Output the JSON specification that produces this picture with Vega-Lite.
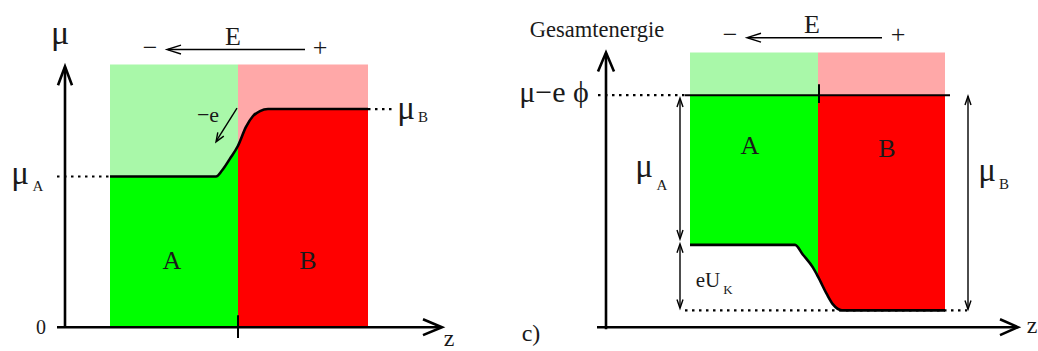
{
  "$schema": "https://vega.github.io/schema/vega-lite/v6.json",
  "width": 1038,
  "height": 351,
  "autosize": {"type": "fit", "contains": "padding"},
  "padding": 0,
  "background": "white",
  "config": {"view": {"stroke": null}},
  "datasets": {
    "rects": [
      {"x": 110, "x2": 238, "y": 65, "y2": 330, "fill": "#a9f8a9"},
      {"x": 238, "x2": 368, "y": 65, "y2": 330, "fill": "#ffa8a8"},
      {"x": 690, "x2": 818, "y": 53, "y2": 96, "fill": "#a9f8a9"},
      {"x": 818, "x2": 945, "y": 53, "y2": 96, "fill": "#ffa8a8"}
    ],
    "areas": [
      {"g": "lg", "fill": "#00ff00", "x": 110, "y": 178, "y2": 330},
      {"g": "lg", "fill": "#00ff00", "x": 216, "y": 178, "y2": 330},
      {"g": "lg", "fill": "#00ff00", "x": 222, "y": 172, "y2": 330},
      {"g": "lg", "fill": "#00ff00", "x": 230, "y": 160, "y2": 330},
      {"g": "lg", "fill": "#00ff00", "x": 238, "y": 147, "y2": 330},
      {"g": "lr", "fill": "#ff0000", "x": 238, "y": 147, "y2": 330},
      {"g": "lr", "fill": "#ff0000", "x": 246, "y": 128, "y2": 330},
      {"g": "lr", "fill": "#ff0000", "x": 253, "y": 117, "y2": 330},
      {"g": "lr", "fill": "#ff0000", "x": 260, "y": 112, "y2": 330},
      {"g": "lr", "fill": "#ff0000", "x": 268, "y": 110, "y2": 330},
      {"g": "lr", "fill": "#ff0000", "x": 368, "y": 110, "y2": 330},
      {"g": "rg", "fill": "#00ff00", "x": 690, "y": 96, "y2": 247},
      {"g": "rg", "fill": "#00ff00", "x": 795, "y": 96, "y2": 247},
      {"g": "rg", "fill": "#00ff00", "x": 803, "y": 96, "y2": 257},
      {"g": "rg", "fill": "#00ff00", "x": 813, "y": 96, "y2": 270},
      {"g": "rg", "fill": "#00ff00", "x": 818, "y": 96, "y2": 279},
      {"g": "rr", "fill": "#ff0000", "x": 818, "y": 96, "y2": 279},
      {"g": "rr", "fill": "#ff0000", "x": 827, "y": 96, "y2": 297},
      {"g": "rr", "fill": "#ff0000", "x": 833, "y": 96, "y2": 307},
      {"g": "rr", "fill": "#ff0000", "x": 842, "y": 96, "y2": 313},
      {"g": "rr", "fill": "#ff0000", "x": 945, "y": 96, "y2": 313}
    ],
    "curves": [
      {"g": "l", "x": 110, "y": 178}, {"g": "l", "x": 216, "y": 178}, {"g": "l", "x": 222, "y": 172},
      {"g": "l", "x": 230, "y": 160}, {"g": "l", "x": 238, "y": 147}, {"g": "l", "x": 246, "y": 128},
      {"g": "l", "x": 253, "y": 117}, {"g": "l", "x": 260, "y": 112}, {"g": "l", "x": 268, "y": 110},
      {"g": "l", "x": 368, "y": 110},
      {"g": "r", "x": 690, "y": 247}, {"g": "r", "x": 795, "y": 247}, {"g": "r", "x": 803, "y": 257},
      {"g": "r", "x": 813, "y": 270}, {"g": "r", "x": 818, "y": 279}, {"g": "r", "x": 827, "y": 297},
      {"g": "r", "x": 833, "y": 307}, {"g": "r", "x": 842, "y": 313}, {"g": "r", "x": 945, "y": 313}
    ],
    "lines": [
      {"k": "thick", "g": "ly", "o": 1, "x": 65, "y": 330}, {"k": "thick", "g": "ly", "o": 2, "x": 65, "y": 68},
      {"k": "thick", "g": "lya", "o": 1, "x": 58, "y": 86}, {"k": "thick", "g": "lya", "o": 2, "x": 65, "y": 67}, {"k": "thick", "g": "lya", "o": 3, "x": 72, "y": 86},
      {"k": "thick", "g": "lx", "o": 1, "x": 57, "y": 330}, {"k": "thick", "g": "lx", "o": 2, "x": 440, "y": 330},
      {"k": "thick", "g": "lxa", "o": 1, "x": 423, "y": 322}, {"k": "thick", "g": "lxa", "o": 2, "x": 442, "y": 330}, {"k": "thick", "g": "lxa", "o": 3, "x": 423, "y": 338},
      {"k": "thick", "g": "ry", "o": 1, "x": 606, "y": 332}, {"k": "thick", "g": "ry", "o": 2, "x": 606, "y": 54},
      {"k": "thick", "g": "rya", "o": 1, "x": 598, "y": 72}, {"k": "thick", "g": "rya", "o": 2, "x": 606, "y": 53}, {"k": "thick", "g": "rya", "o": 3, "x": 614, "y": 72},
      {"k": "thick", "g": "rx", "o": 1, "x": 597, "y": 330}, {"k": "thick", "g": "rx", "o": 2, "x": 1016, "y": 330},
      {"k": "thick", "g": "rxa", "o": 1, "x": 1000, "y": 322}, {"k": "thick", "g": "rxa", "o": 2, "x": 1018, "y": 330}, {"k": "thick", "g": "rxa", "o": 3, "x": 1000, "y": 338},
      {"k": "mid", "g": "ltick", "o": 1, "x": 238, "y": 318}, {"k": "mid", "g": "ltick", "o": 2, "x": 238, "y": 341},
      {"k": "mid", "g": "rtop", "o": 1, "x": 685, "y": 96}, {"k": "mid", "g": "rtop", "o": 2, "x": 950, "y": 96},
      {"k": "mid", "g": "rtick", "o": 1, "x": 819, "y": 85}, {"k": "mid", "g": "rtick", "o": 2, "x": 819, "y": 104},
      {"k": "thin", "g": "lE", "o": 1, "x": 305, "y": 50}, {"k": "thin", "g": "lE", "o": 2, "x": 168, "y": 50},
      {"k": "thin", "g": "lEa", "o": 1, "x": 181, "y": 45.5}, {"k": "thin", "g": "lEa", "o": 2, "x": 167, "y": 50}, {"k": "thin", "g": "lEa", "o": 3, "x": 181, "y": 54.5},
      {"k": "thin", "g": "rE", "o": 1, "x": 882, "y": 38}, {"k": "thin", "g": "rE", "o": 2, "x": 748, "y": 38},
      {"k": "thin", "g": "rEa", "o": 1, "x": 761, "y": 33.5}, {"k": "thin", "g": "rEa", "o": 2, "x": 747, "y": 38}, {"k": "thin", "g": "rEa", "o": 3, "x": 761, "y": 42.5},
      {"k": "thin", "g": "le", "o": 1, "x": 237, "y": 109}, {"k": "thin", "g": "le", "o": 2, "x": 217, "y": 141},
      {"k": "thin", "g": "lea", "o": 1, "x": 223.8, "y": 137.3}, {"k": "thin", "g": "lea", "o": 2, "x": 216, "y": 143}, {"k": "thin", "g": "lea", "o": 3, "x": 217.8, "y": 133.5},
      {"k": "thin", "g": "ma", "o": 1, "x": 680, "y": 100}, {"k": "thin", "g": "ma", "o": 2, "x": 680, "y": 240},
      {"k": "thin", "g": "ma1", "o": 1, "x": 677, "y": 108}, {"k": "thin", "g": "ma1", "o": 2, "x": 680, "y": 99}, {"k": "thin", "g": "ma1", "o": 3, "x": 683, "y": 108},
      {"k": "thin", "g": "ma2", "o": 1, "x": 677, "y": 232}, {"k": "thin", "g": "ma2", "o": 2, "x": 680, "y": 241}, {"k": "thin", "g": "ma2", "o": 3, "x": 683, "y": 232},
      {"k": "thin", "g": "eu", "o": 1, "x": 680, "y": 247}, {"k": "thin", "g": "eu", "o": 2, "x": 680, "y": 310},
      {"k": "thin", "g": "eu1", "o": 1, "x": 677, "y": 255}, {"k": "thin", "g": "eu1", "o": 2, "x": 680, "y": 246}, {"k": "thin", "g": "eu1", "o": 3, "x": 683, "y": 255},
      {"k": "thin", "g": "eu2", "o": 1, "x": 677, "y": 302}, {"k": "thin", "g": "eu2", "o": 2, "x": 680, "y": 311}, {"k": "thin", "g": "eu2", "o": 3, "x": 683, "y": 302},
      {"k": "thin", "g": "mb", "o": 1, "x": 968, "y": 97}, {"k": "thin", "g": "mb", "o": 2, "x": 968, "y": 312},
      {"k": "thin", "g": "mb1", "o": 1, "x": 965, "y": 106}, {"k": "thin", "g": "mb1", "o": 2, "x": 968, "y": 97}, {"k": "thin", "g": "mb1", "o": 3, "x": 971, "y": 106},
      {"k": "thin", "g": "mb2", "o": 1, "x": 965, "y": 303}, {"k": "thin", "g": "mb2", "o": 2, "x": 968, "y": 312}, {"k": "thin", "g": "mb2", "o": 3, "x": 971, "y": 303},
      {"k": "dot", "g": "d1", "o": 1, "x": 57, "y": 178}, {"k": "dot", "g": "d1", "o": 2, "x": 110, "y": 178},
      {"k": "dot", "g": "d2", "o": 1, "x": 368, "y": 110}, {"k": "dot", "g": "d2", "o": 2, "x": 396, "y": 110},
      {"k": "dot", "g": "d3", "o": 1, "x": 598, "y": 96}, {"k": "dot", "g": "d3", "o": 2, "x": 685, "y": 96},
      {"k": "dot", "g": "d4", "o": 1, "x": 685, "y": 313}, {"k": "dot", "g": "d4", "o": 2, "x": 967, "y": 313}
    ],
    "texts": [
      {"t": "μ", "x": 60, "y": 34, "s": 34},
      {"t": "E", "x": 233, "y": 37, "s": 26},
      {"t": "−", "x": 150, "y": 48, "s": 26},
      {"t": "+", "x": 320, "y": 48, "s": 26},
      {"t": "−e", "x": 208, "y": 116, "s": 22},
      {"t": "μ", "x": 20, "y": 176, "s": 33},
      {"t": "A", "x": 38, "y": 188, "s": 15},
      {"t": "μ", "x": 406, "y": 110, "s": 33},
      {"t": "B", "x": 423, "y": 118, "s": 15},
      {"t": "0", "x": 41, "y": 331, "s": 20},
      {"t": "A", "x": 172, "y": 263, "s": 26},
      {"t": "B", "x": 308, "y": 263, "s": 26},
      {"t": "z", "x": 449, "y": 342, "s": 24},
      {"t": "Gesamtenergie", "x": 597, "y": 30, "s": 22.5},
      {"t": "E", "x": 812, "y": 25, "s": 26},
      {"t": "−", "x": 730, "y": 35, "s": 26},
      {"t": "+", "x": 898, "y": 35, "s": 26},
      {"t": "μ−e ϕ", "x": 554, "y": 94, "s": 30},
      {"t": "A", "x": 750, "y": 147, "s": 26},
      {"t": "B", "x": 887, "y": 150, "s": 26},
      {"t": "μ", "x": 644, "y": 168, "s": 33},
      {"t": "A", "x": 662, "y": 187, "s": 15},
      {"t": "eU", "x": 708, "y": 283, "s": 21},
      {"t": "K", "x": 728, "y": 292, "s": 13},
      {"t": "μ", "x": 987, "y": 172, "s": 33},
      {"t": "B", "x": 1004, "y": 186, "s": 15},
      {"t": "c)", "x": 531, "y": 337, "s": 24},
      {"t": "z", "x": 1032, "y": 329, "s": 24}
    ]
  },
  "encoding": {
    "x": {"type": "quantitative", "scale": {"domain": [0, 1038], "nice": false, "zero": false}, "axis": null},
    "y": {"type": "quantitative", "scale": {"domain": [0, 351], "nice": false, "zero": false, "reverse": true}, "axis": null}
  },
  "layer": [
    {
      "data": {"name": "rects"},
      "mark": {"type": "rect"},
      "encoding": {
        "x": {"field": "x", "type": "quantitative"},
        "x2": {"field": "x2"},
        "y": {"field": "y", "type": "quantitative"},
        "y2": {"field": "y2"},
        "color": {"field": "fill", "type": "nominal", "scale": null}
      }
    },
    {
      "data": {"name": "areas"},
      "mark": {"type": "area", "interpolate": "monotone", "opacity": 1},
      "encoding": {
        "x": {"field": "x", "type": "quantitative"},
        "y": {"field": "y", "type": "quantitative"},
        "y2": {"field": "y2"},
        "detail": {"field": "g"},
        "color": {"field": "fill", "type": "nominal", "scale": null}
      }
    },
    {
      "data": {"name": "curves"},
      "mark": {"type": "line", "interpolate": "monotone", "color": "#000000", "strokeWidth": 2.6},
      "encoding": {
        "x": {"field": "x", "type": "quantitative"},
        "y": {"field": "y", "type": "quantitative"},
        "detail": {"field": "g"}
      }
    },
    {
      "data": {"name": "lines"},
      "transform": [{"filter": "datum.k === 'thick'"}],
      "mark": {"type": "line", "color": "#000000", "strokeWidth": 2.6},
      "encoding": {
        "x": {"field": "x", "type": "quantitative"},
        "y": {"field": "y", "type": "quantitative"},
        "detail": {"field": "g"},
        "order": {"field": "o"}
      }
    },
    {
      "data": {"name": "lines"},
      "transform": [{"filter": "datum.k === 'mid'"}],
      "mark": {"type": "line", "color": "#000000", "strokeWidth": 2},
      "encoding": {
        "x": {"field": "x", "type": "quantitative"},
        "y": {"field": "y", "type": "quantitative"},
        "detail": {"field": "g"},
        "order": {"field": "o"}
      }
    },
    {
      "data": {"name": "lines"},
      "transform": [{"filter": "datum.k === 'thin'"}],
      "mark": {"type": "line", "color": "#000000", "strokeWidth": 1.4},
      "encoding": {
        "x": {"field": "x", "type": "quantitative"},
        "y": {"field": "y", "type": "quantitative"},
        "detail": {"field": "g"},
        "order": {"field": "o"}
      }
    },
    {
      "data": {"name": "lines"},
      "transform": [{"filter": "datum.k === 'dot'"}],
      "mark": {"type": "line", "color": "#000000", "strokeWidth": 2.2, "strokeDash": [2.5, 4.5]},
      "encoding": {
        "x": {"field": "x", "type": "quantitative"},
        "y": {"field": "y", "type": "quantitative"},
        "detail": {"field": "g"},
        "order": {"field": "o"}
      }
    },
    {
      "data": {"name": "texts"},
      "mark": {"type": "text", "font": "Liberation Serif", "align": "center", "baseline": "middle", "color": "#1a1a1a"},
      "encoding": {
        "x": {"field": "x", "type": "quantitative"},
        "y": {"field": "y", "type": "quantitative"},
        "text": {"field": "t"},
        "size": {"field": "s", "type": "quantitative", "scale": null}
      }
    }
  ]
}
